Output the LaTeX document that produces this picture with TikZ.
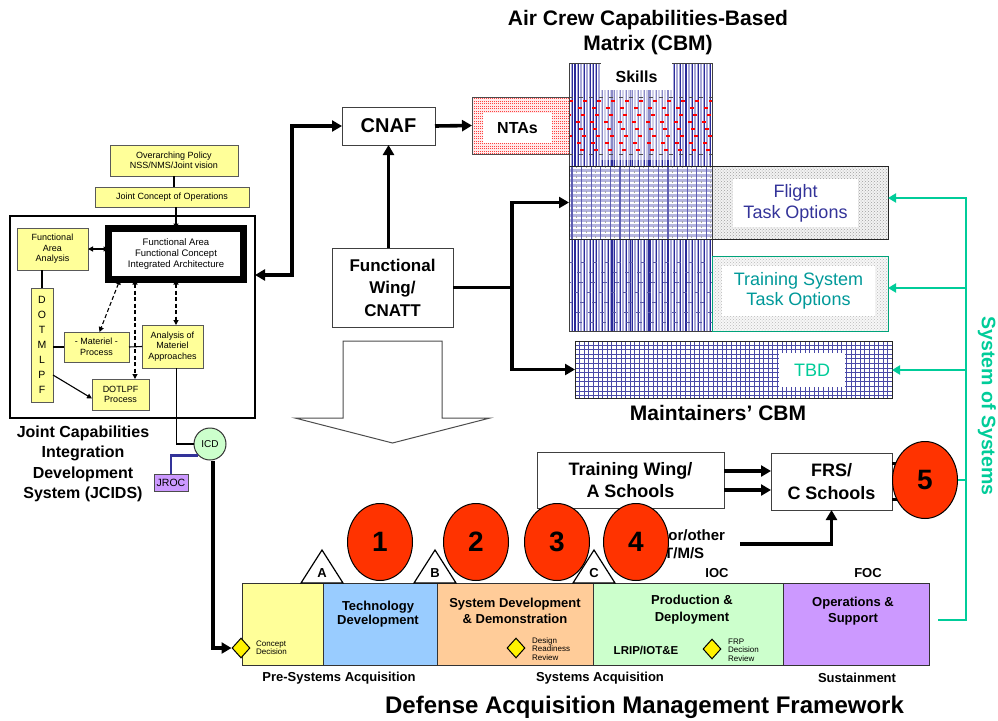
\documentclass[tikz,border=0pt]{standalone}
\usepackage{fontspec}
\setmainfont{Liberation Sans}
\usetikzlibrary{arrows.meta,shapes.geometric,patterns,calc}
\definecolor{ybox}{HTML}{FFFF99}
\definecolor{redc}{HTML}{FF3300}
\definecolor{teal2}{HTML}{00CC99}
\definecolor{tealtxt}{HTML}{009999}
\definecolor{navy}{HTML}{333399}
\definecolor{phA}{HTML}{FFFF99}
\definecolor{phB}{HTML}{99CCFF}
\definecolor{phC}{HTML}{FFCC99}
\definecolor{phD}{HTML}{CCFFCC}
\definecolor{phE}{HTML}{CC99FF}
\definecolor{stripebg}{HTML}{A8A8D8}
\definecolor{stripedk}{HTML}{2A2A99}
\newcommand\fz[2]{\fontsize{#1}{#2}\selectfont}
\tikzset{
  wbox/.style={draw=black!75, line width=1pt, fill=white, inner sep=0pt, outer sep=0pt, align=center},
  ybx/.style={draw=black!65, line width=0.8pt, fill=ybox, inner sep=0pt, outer sep=0pt, align=center, font=\fz{9}{10.5}},
  frame/.style={inner sep=0pt, outer sep=0pt},
  bigarr/.style={line width=3.6pt, -{Triangle[length=10pt,width=11pt]}},
  bigline/.style={line width=3.6pt},
  smarr/.style={line width=1.1pt, -{Triangle[length=5pt,width=5pt]}},
  dbl/.style={line width=1.1pt, {Triangle[length=5pt,width=5pt]}-{Triangle[length=5pt,width=5pt]}},
  dasharr/.style={dbl, dash pattern=on 4pt off 2.5pt},
  sosarr/.style={draw=teal2, line width=2.8pt, -{Triangle[length=8pt,width=9pt]}},
  numdisc/.style={ellipse, draw=black, line width=1pt, fill=redc, minimum width=65pt, minimum height=77pt, inner sep=0pt, font=\bfseries\fz{28}{30}},
  phasebox/.style={draw=black!80, line width=1pt, minimum height=82pt, inner sep=0pt, outer sep=0pt},
  phlbl/.style={font=\bfseries\fz{13}{16}, align=center},
  dmd/.style={diamond, draw=black, line width=1pt, fill=yellow, minimum width=18pt, minimum height=20pt, inner sep=0pt},
  smalltxt/.style={font=\fz{8}{8.3}, align=left, inner sep=0pt, anchor=west},
  lbl/.style={fill=white, inner sep=0pt},
  trimark/.style={draw=black, line width=1.2pt, fill=white, line join=miter},
}
\begin{document}
\begin{tikzpicture}[x=1pt,y=-1pt]
\useasboundingbox (0,0) rectangle (998,720);

% ---------- capabilities matrix textures
% NTAs band
\fill[red!8] (472,97) rectangle (569,154);
\foreach \k in {0,...,22} \draw[red!75, line width=0.8pt, dash pattern=on 1pt off 1pt] (472,{98.5+\k*2.5}) -- (569,{98.5+\k*2.5});
% skills column
\begin{scope}
\clip (569,63) rectangle (712,331);
\fill[stripebg] (569,63) rectangle (712,331);
\foreach \k in {0,...,47} \draw[white, line width=1pt] ({570.5+\k*3},63) -- ++(0,268);
\foreach \k in {0,...,23} \draw[stripedk, line width=0.9pt] ({572+\k*6},63) -- ++(0,268);
\foreach \k in {0,...,7} \draw[stripedk, line width=1.8pt] ({575+\k*18.5},63) -- ++(0,268);
\fill[white, opacity=0.45] (601,90) rectangle (672,160);
\foreach \yy/\ph in {101/0,108/5,115/2,122/7,129/4,136/1,143/6,150/3} \draw[red, line width=1.3pt, dash pattern=on 4pt off 10pt, dash phase=\ph pt] (569,\yy) -- (712,\yy);
\foreach \yy in {97.5,154.5} \draw[black!70, line width=1pt, dash pattern=on 4pt off 6pt] (569,\yy) -- (712,\yy);
\foreach \yy/\ph in {262/0,272/4,282/2,292/6,302/1,312/5,322/3} \draw[gray!70!blue, line width=1pt, dash pattern=on 4pt off 8pt, dash phase=\ph pt] (569,\yy) -- (712,\yy);
\end{scope}
% flight row, woven part
\begin{scope}
\clip (569,166) rectangle (712,239);
\fill[stripebg!85!white] (569,166) rectangle (712,239);
\foreach \k in {0,...,14} \draw[white, line width=1.5pt] (569,{168+\k*5}) -- (712,{168+\k*5});
\foreach \k in {0,...,14} \draw[stripedk!75, line width=1.3pt] ({572+\k*9.6},166) -- ++(0,73);
\foreach \k in {0,...,14} \draw[gray!70, line width=1pt, dash pattern=on 2pt off 3pt] ({576.5+\k*9.6},166) -- ++(0,73);
\end{scope}
% dotted task option bands
\fill[gray!10] (712,166) rectangle (888,239);
\fill[pattern=crosshatch dots, pattern color=gray!75] (712,166) rectangle (888,239);
\fill[gray!6] (712,256) rectangle (888,331);
\fill[pattern=crosshatch dots, pattern color=gray!55] (712,256) rectangle (888,331);
% maintainers grid band
\fill[white] (575,341) rectangle (892,398);
\begin{scope}
\clip (575,341) rectangle (892,398);
\draw[stripedk!85, line width=0.8pt, step=4.6pt] (575,398) grid (892,341);
\end{scope}

% ---------- matrix outlines and labels
\node[frame, draw=black!70, line width=0.8pt, minimum width=97pt, minimum height=57pt] (ntas) at (520.5,125.5) {};
\node[frame, draw=black!75, line width=0.8pt, minimum width=143pt, minimum height=268pt] (skills) at (640.5,197) {};
\node[frame, draw=black!85, line width=1pt, minimum width=319pt, minimum height=73pt] (flight) at (728.5,202.5) {};
\node[frame, draw=teal2!80!black, line width=1pt, minimum width=176pt, minimum height=75pt] (train) at (800,293.5) {};
\node[frame, draw=black!85, line width=1pt, minimum width=317pt, minimum height=57pt] (tbd) at (733.5,369.5) {};

\node[lbl, minimum width=69pt, minimum height=30pt, font=\bfseries\fz{16}{18}] (ntaslbl) at (517.5,128) {NTAs};
\node[lbl, minimum width=71pt, minimum height=27pt, font=\bfseries\fz{16}{18}] (skillslbl) at (636.5,76.5) {Skills};
\node[lbl, minimum width=125pt, minimum height=48pt, font=\fz{18}{21}, text=navy, align=center] (flightlbl) at (795.5,203) {Flight\\Task Options};
\node[lbl, minimum width=153pt, minimum height=50pt, font=\fz{18}{20}, text=tealtxt, align=center] (trainlbl) at (798.5,291) {Training System\\Task Options};
\node[lbl, minimum width=66pt, minimum height=34pt, font=\fz{18}{20}, text=teal2] (tbdlbl) at (812,370) {TBD};

\node[font=\bfseries\fz{21}{25}, align=center] (title) at (648,33) {Air Crew Capabilities-Based\\Matrix (CBM)};
\node[font=\bfseries\fz{21}{24}] (mcbm) at (718,413) {Maintainers' CBM};

% ---------- command boxes
\node[wbox, minimum width=93pt, minimum height=38pt, font=\bfseries\fz{20}{22}] (cnaf) at (388.5,126) {CNAF};
\node[wbox, minimum width=121pt, minimum height=79pt, font=\bfseries\fz{17}{22.5}] (fw) at (392.5,287.5) {Functional\\Wing/\\CNATT};
\draw[bigarr] (cnaf.east) -- (ntas.west);
\draw[bigarr] (fw.north -| cnaf.south) -- (cnaf.south);
\coordinate (branch) at (512,287.5);
\draw[bigline] (fw.east) -- (branch);
\draw[bigarr] (branch) |- (flight.west);
\draw[bigarr] (branch) |- (tbd.west);

% hollow down arrow
\draw[black!70, line width=1pt, fill=white] (343,341) -- (442,341) -- (442,418) -- (490,418) -- (392.5,443) -- (295,418) -- (343,418) -- cycle;

% ---------- JCIDS
\node[frame, draw=black, line width=1.8pt, minimum width=245pt, minimum height=202pt] (jcids) at (132.5,317) {};
\node[ybx, minimum width=128pt, minimum height=31pt] (pol) at (174,160.5) {Overarching Policy\\NSS/NMS/Joint vision};
\node[ybx, minimum width=154pt, minimum height=20pt] (jco) at (172,197) {Joint Concept of Operations};
\node[ybx, draw=black, line width=7pt, fill=white, minimum width=135pt, minimum height=51pt, font=\fz{9.5}{11}] (fa) at (176,254) {Functional Area\\Functional Concept\\Integrated Architecture};
\node[ybx, minimum width=71pt, minimum height=42pt] (faa) at (52.5,249) {Functional\\Area\\Analysis};
\node[ybx, minimum width=22pt, minimum height=114pt, font=\fz{10.5}{15}] (dot) at (42,345) {D\\O\\T\\M\\L\\P\\F};
\node[ybx, minimum width=65pt, minimum height=30pt] (mat) at (96.5,347) {- Materiel -\\Process};
\node[ybx, minimum width=61pt, minimum height=43pt] (ana) at (172.5,346.5) {Analysis of\\Materiel\\Approaches};
\node[ybx, minimum width=57pt, minimum height=31pt] (dotlpf) at (120.5,394.5) {DOTLPF\\Process};

\draw[line width=1.1pt] (pol.south) -- (pol.south |- jco.north);
\draw[smarr] (jco.south -| fa.north) -- (fa.north);
\draw[dbl] (faa.east) -- (faa.east -| fa.west);
\draw[line width=1.1pt] (dot.north) -- (dot.north |- faa.south);
\draw[line width=1.1pt] (mat.west) -- (mat.west -| dot.east);
\draw[line width=1.1pt] (mat.east) -- (ana.west);
\draw[smarr] ([yshift=-30pt]dot.east) -- ([yshift=-4pt]dotlpf.west);
\draw[dasharr] ([xshift=-56pt]fa.south) -- ([xshift=3pt]mat.north);
\draw[dasharr] ([xshift=-41pt]fa.south) -- ([xshift=-41pt]fa.south |- dotlpf.north);
\draw[dasharr] (fa.south) -- (fa.south |- ana.north);

\draw[line width=3.6pt, {Triangle[length=10pt,width=11pt]}-{Triangle[length=10pt,width=11pt]}] ([yshift=42pt]jcids.east) -- ++(37,0) |- (cnaf.west);

\node[font=\bfseries\fz{16}{20.3}, align=center] (jlbl) at (83,464) {Joint Capabilities\\Integration\\Development\\System (JCIDS)};

\node[circle, draw=black!80, line width=1pt, fill=phD, minimum size=32pt, inner sep=0pt, font=\fz{10}{11}] (icd) at (210,444) {ICD};
\node[draw=black!70, line width=0.8pt, fill=phE, minimum width=34pt, minimum height=17pt, inner sep=0pt, font=\fz{10.5}{11}] (jroc) at (171,482.5) {JROC};
\draw[line width=1.1pt] ([xshift=4pt]ana.south) |- (icd.west);
\draw[navy, line width=2.5pt] (jroc.north) |- (icd.south west);

% ---------- acquisition framework
\node[phasebox, fill=phA, minimum width=81pt] (ph1) at (282.5,624) {};
\node[phasebox, fill=phB, minimum width=114pt] (ph2) at (380,624) {};
\node[phasebox, fill=phC, minimum width=156pt] (ph3) at (515,624) {};
\node[phasebox, fill=phD, minimum width=190pt] (ph4) at (688,624) {};
\node[phasebox, fill=phE, minimum width=146pt] (ph5) at (856,624) {};

\node[phlbl, font=\bfseries\fz{13}{14}] (t2) at (378,614) {Technology\\Development};
\node[phlbl] (t3) at (515,611) {System Development\\\& Demonstration};
\node[phlbl, font=\bfseries\fz{13}{17}] (t4) at (692,609.5) {Production \&\\Deployment};
\node[phlbl] (t5) at (853,611) {Operations \&\\Support};

\node[dmd] (cd) at (241,648) {};
\node[smalltxt] (cdt) at (256,648) {Concept\\Decision};
\node[dmd] (drr) at (516,648) {};
\node[smalltxt] (drrt) at (532,649) {Design\\Readiness\\Review};
\node[dmd] (frp) at (712,649) {};
\node[smalltxt] (frpt) at (728,650) {FRP\\Decision\\Review};
\node[font=\bfseries\fz{11.5}{12}] (lrip) at (646,650) {LRIP/IOT\&E};

\node[font=\bfseries\fz{13}{14}] (ioc) at (717,573) {IOC};
\node[font=\bfseries\fz{13}{14}] (foc) at (868,573) {FOC};

\node[font=\bfseries\fz{13}{14}] (pre) at (339,678) {Pre-Systems Acquisition};
\node[font=\bfseries\fz{13}{14}] (sysacq) at (600,678) {Systems Acquisition};
\node[font=\bfseries\fz{13}{14}] (sust) at (857,678) {Sustainment};
\node[font=\bfseries\fz{24}{26}] (damf) at (644.5,707) {Defense Acquisition Management Framework};

\draw[bigarr] ([xshift=3pt]icd.south) |- (cd.west);

% milestone triangles
\draw[trimark] (301,583) -- (322,550) -- (343,583) -- cycle;
\node[font=\bfseries\fz{13}{14}] (ma) at (322,573) {A};
\draw[trimark] (414,583) -- (435,550) -- (456,583) -- cycle;
\node[font=\bfseries\fz{13}{14}] (mb) at (435,573) {B};
\draw[trimark] (573,583) -- (594,550) -- (615,583) -- cycle;
\node[font=\bfseries\fz{13}{14}] (mc) at (594,573) {C};

% ---------- training pipeline
\node[wbox, minimum width=187pt, minimum height=56pt, font=\bfseries\fz{18}{22}] (tw) at (630.5,480) {Training Wing/\\A Schools};
\node[wbox, minimum width=121pt, minimum height=57pt, font=\bfseries\fz{18}{23}] (frs) at (831.5,481.5) {FRS/\\C Schools};
\draw[bigarr] ([yshift=9pt]tw.east) -- ([yshift=9pt]tw.east -| frs.west);
\draw[bigarr] ([yshift=-10pt]tw.east) -- ([yshift=-10pt]tw.east -| frs.west);
\node[font=\bfseries\fz{15}{18}, align=left, anchor=west, inner sep=1pt] (tms) at (663,544) {ior/other\\T/M/S};
\draw[bigarr] ([xshift=14pt]tms.east) -| (frs.south);

% ---------- system of systems
\coordinate (sosT) at (966,198);
\coordinate (sosB) at (966,620);
\coordinate (sosE) at (938,620);
\coordinate (sos2) at (966,288);
\coordinate (sos3) at (966,370);
\draw[teal2, line width=2.8pt] (sosT) -- (sosB) -- (sosE);
\draw[sosarr] ([xshift=1.4pt]sosT) -- (sosT -| flight.east);
\draw[sosarr] (sos2) -- (sos2 -| train.east);
\draw[sosarr] (sos3) -- (sos3 -| tbd.east);
\node[rotate=-90, font=\bfseries\fz{19.5}{21}, text=teal2] (sos) at (987,406) {System of Systems};

% ---------- numbered phases
\draw[line width=2.5pt] ([yshift=18pt]frs.east) -- ++(12,0);
\draw[line width=2.5pt] ([yshift=-18pt]frs.east) -- ++(12,0);
\node[numdisc] (c5) at (925,480) {5};
\draw[teal2, line width=2.8pt] (c5.east) -- (c5.east -| sosB);
\node[numdisc] (c1) at (380,542) {1};
\node[numdisc] (c2) at (476,542) {2};
\node[numdisc] (c3) at (557,542) {3};
\node[numdisc] (c4) at (636,542) {4};
\end{tikzpicture}
\end{document}
